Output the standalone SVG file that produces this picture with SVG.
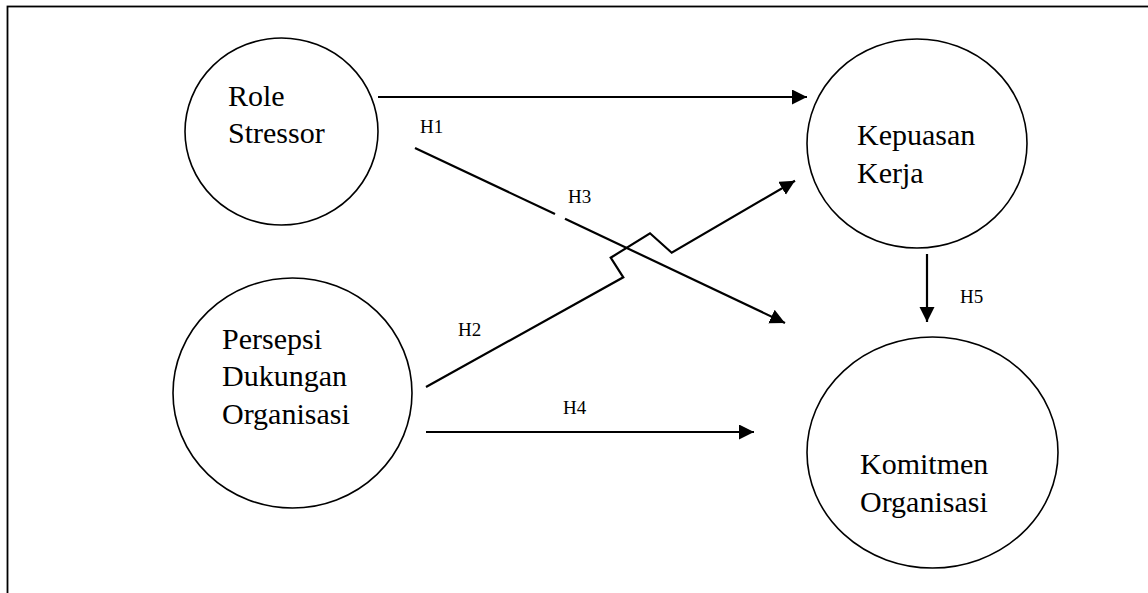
<svg xmlns="http://www.w3.org/2000/svg" width="1148" height="593" viewBox="0 0 1148 593">
<style>
.node ellipse{fill:#fff;stroke:#000;stroke-width:1.6}
.node text{font-family:'Liberation Serif','DejaVu Serif',serif;font-size:30px;fill:#000}
.lbl{font-family:'Liberation Serif','DejaVu Serif',serif;font-size:19px;fill:#000}
.conn{fill:none;stroke:#000;stroke-width:2.2}
</style>
<defs>
<marker id="ah" markerUnits="userSpaceOnUse" markerWidth="16" markerHeight="16" refX="15" refY="7.5" orient="auto">
<path d="M0,0 L15,7.5 L0,15 z" fill="#000"/>
</marker>
</defs>
<rect x="7.5" y="6.5" width="1200" height="700" fill="#fff" stroke="#000" stroke-width="1.8"/>
<g id="role-stressor" class="node">
<ellipse cx="281.5" cy="131.5" rx="96.5" ry="93.5"/>
<text x="228" y="106">Role</text>
<text x="228" y="143">Stressor</text>
</g>
<g id="kepuasan-kerja" class="node">
<ellipse cx="917" cy="143.5" rx="110" ry="104.5"/>
<text x="857" y="145">Kepuasan</text>
<text x="857" y="183">Kerja</text>
</g>
<g id="persepsi" class="node">
<ellipse cx="292.5" cy="393" rx="119.5" ry="115"/>
<text x="222" y="349">Persepsi</text>
<text x="222" y="386">Dukungan</text>
<text x="222" y="424">Organisasi</text>
</g>
<g id="komitmen" class="node">
<ellipse cx="932.5" cy="452.5" rx="125.5" ry="115.5"/>
<text x="860" y="474">Komitmen</text>
<text x="860" y="512">Organisasi</text>
</g>
<g id="connectors">
<line class="conn" x1="378" y1="97" x2="807" y2="97" marker-end="url(#ah)"/>
<line class="conn" x1="415" y1="148" x2="555" y2="214"/>
<line class="conn" x1="565" y1="218.7" x2="785" y2="323" marker-end="url(#ah)"/>
<polyline class="conn" points="426,387 623.3,277.3 610.7,257.7 650,233.3 671.7,252.7 795,180.7" marker-end="url(#ah)"/>
<line class="conn" x1="426" y1="432" x2="754" y2="432" marker-end="url(#ah)"/>
<line class="conn" x1="927" y1="254" x2="927" y2="322" marker-end="url(#ah)"/>
</g>
<g id="labels">
<text class="lbl" x="420" y="133">H1</text>
<text class="lbl" x="568" y="203">H3</text>
<text class="lbl" x="458" y="336">H2</text>
<text class="lbl" x="563" y="414">H4</text>
<text class="lbl" x="960" y="303">H5</text>
</g>
</svg>
